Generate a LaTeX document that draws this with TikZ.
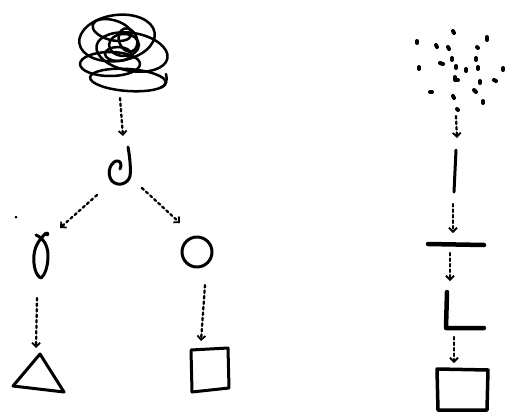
\documentclass[tikz,border=0pt]{standalone}
\usetikzlibrary{arrows.meta}
\tikzset{
  ink/.style={line width=3pt, line cap=round, line join=round},
  thick ink/.style={line width=4.5pt, line cap=round, line join=round},
  flow/.style={line width=2.3pt, dash pattern=on 2.5pt off 3pt, line cap=round,
    -{Straight Barb[length=4pt,width=8pt,line width=1.8pt]}},
  dotmark/.style={line width=4pt, line cap=round},
}
\begin{document}
\begin{tikzpicture}[x=1pt,y=-1pt]
\useasboundingbox (0,0) rectangle (507,413);

% ---- left tree ----
% tangle
\begin{scope}[ink, line width=2.5pt]
  \draw (117,38) ellipse [x radius=38, y radius=23, rotate=8];
  \draw (132,52) ellipse [x radius=36, y radius=19, rotate=-10];
  \draw (110,64) ellipse [x radius=30, y radius=12, rotate=0];
  \draw (128,80) ellipse [x radius=38, y radius=11, rotate=-4];
  \draw (124,45) ellipse [x radius=15, y radius=11];
  \draw (128,40) ellipse [x radius=9, y radius=12, rotate=20];
  \draw (118,54) ellipse [x radius=13, y radius=7];
  \draw (112,30) ellipse [x radius=20, y radius=10, rotate=-15];
  \draw (160,88) .. controls (166,86) and (168,80) .. (166,74);
\end{scope}
\coordinate (tangle) at (120,98);

% curl
\draw[ink] (128,147) .. controls (130,158) and (131,170) .. (130,176)
  .. controls (128,184) and (118,187) .. (112,181)
  .. controls (107,175) and (109,164) .. (116,161)
  .. controls (121,160) and (122,165) .. (120,169);
\coordinate (curlTop) at (123,136);
\coordinate (curlL) at (97,195);
\coordinate (curlR) at (142,188);

% stray dot
\fill (16,217) circle (1.5pt);

% fish loop
\draw[ink] (36,235) .. controls (43,238) and (48,245) .. (48,256)
  .. controls (48,268) and (44,276) .. (41,278)
  .. controls (36,276) and (33,266) .. (34,255)
  .. controls (35,245) and (40,239) .. (46,233);
\fill (47,234) circle (2.3pt);
\coordinate (fishIn) at (60,228);
\coordinate (fishOut) at (37,298);

% circle
\node[draw, circle, ink, minimum size=30pt, inner sep=0pt] (circ) at (197,252) {};
\coordinate (circIn) at (180,223);
\coordinate (circOut) at (205,285);

% triangle
\draw[ink] (40,354) -- (64,392) -- (13,386) -- cycle;
\coordinate (triIn) at (36,348);

% left square
\draw[ink] (191,350) -- (228,348) -- (229,388) -- (192,392) -- cycle;
\coordinate (sqIn) at (201,341);

\draw[flow] (tangle) -- (curlTop);
\draw[flow] (curlL) -- (fishIn);
\draw[flow] (curlR) -- (circIn);
\draw[flow] (fishOut) -- (triIn);
\draw[flow] (circOut) -- (sqIn);

% ---- right column ----
\foreach \x/\y/\dx/\dy in {
 453/31/1/2, 487/37/0/3, 417/41/0/2, 436/45/1/2, 448/47/1/2, 477/47/1/1,
 452/58/0/2, 476/58/0/2, 419/67/0/2, 440/63/3/1, 456/66/0/2, 466/69/0/2,
 478/67/0/2, 503/68/0/2, 455/77/0/3, 456/80/2/0, 480/81/0/2, 494/80/2/1,
 430/92/2/0, 453/96/1/2, 474/90/2/2, 483/101/0/2, 457/109/1/1}
  \draw[dotmark] (\x,\y) -- ++(\dx,\dy);
\coordinate (dotsOut) at (456,116);
\coordinate (barIn) at (457,138);

\draw[ink, line width=3pt] (456,150) -- (454,192) coordinate (barOut);
\coordinate (barOutS) at (453,204);

\draw[thick ink] (428,244) -- (484,245);
\coordinate (hIn) at (453,233);
\coordinate (hOut) at (450,253);

\draw[thick ink] (447,292) -- (446,328) -- (484,328);
\coordinate (LIn) at (450,281);
\coordinate (LOut) at (454,337);

\draw[ink, line width=3.5pt] (437,369) -- (488,370) -- (487,410) -- (438,410) -- cycle;
\coordinate (sq2In) at (454,363);

\draw[flow] (dotsOut) -- (barIn);
\draw[flow] (barOutS) -- (hIn);
\draw[flow] (hOut) -- (LIn);
\draw[flow] (LOut) -- (sq2In);
\end{tikzpicture}
\end{document}
